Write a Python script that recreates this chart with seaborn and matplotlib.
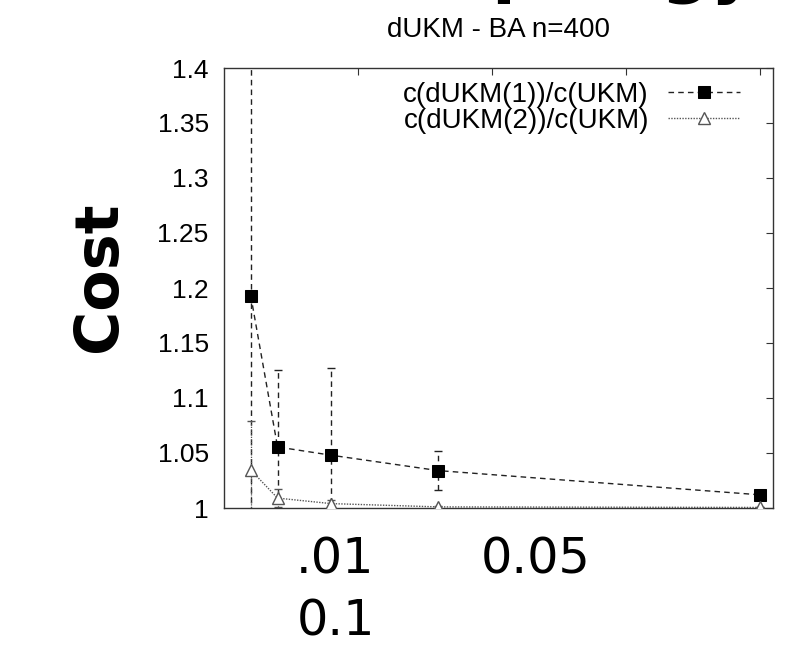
import numpy as np
import pandas as pd
import matplotlib
matplotlib.use("Agg")
import matplotlib.pyplot as plt
import seaborn as sns

# values
x_vals = [0.01, 0.02, 0.04, 0.08, 0.2]
ratio_1 = [1.193, 1.0555, 1.048, 1.034, 1.012]
err_1 = [0.25, 0.07, 0.079, 0.018, 0.002]
ratio_2 = [1.0345, 1.009, 1.004, 1.001, 1.0005]
err_2 = [0.045, 0.008, 0.003, 0.001, 0.0]
labels = ["c(dUKM(1))/c(UKM)", "c(dUKM(2))/c(UKM)"]
y_ticks = [1.0, 1.05, 1.1, 1.15, 1.2, 1.25, 1.3, 1.35, 1.4]
y_ticklabels = ["1", "1.05", "1.1", "1.15", "1.2", "1.25", "1.3", "1.35", "1.4"]
x_ticks = [0.05, 0.1, 0.15, 0.2]
overlay_labels = [".01", "0.05", "0.1"]

sns.set_style("white")
plt.rcParams['font.family'] = ['Liberation Sans', 'DejaVu Sans']
plt.rcParams['text.color'] = 'black'
plt.rcParams['ytick.labelcolor'] = 'black'

df = pd.DataFrame({"x": x_vals, "r1": ratio_1, "r2": ratio_2})

fig = plt.figure(figsize=(7.87, 6.53), dpi=100)
ax = fig.add_axes([224 / 787, 1 - 508 / 653, 549 / 787, 440 / 653])

# error bars first, lines on top
ax.errorbar(x_vals, ratio_1, yerr=err_1, fmt="none", ecolor="#222222",
            elinewidth=1, capsize=3, zorder=2)
ax.errorbar(x_vals, ratio_2, yerr=err_2, fmt="none", ecolor="#555555",
            elinewidth=0.9, capsize=3, zorder=2)
ax.collections[0].set_linestyle((0, (4, 3)))
ax.collections[1].set_linestyle((0, (1, 1)))

sns.lineplot(data=df, x="x", y="r1", ax=ax, color="#222222", linewidth=1,
             linestyle=(0, (4, 3)), marker="s", markersize=8,
             markerfacecolor="black", markeredgecolor="black",
             label=labels[0], zorder=3)
sns.lineplot(data=df, x="x", y="r2", ax=ax, color="#555555", linewidth=1,
             linestyle=(0, (1, 1)), marker="^", markersize=9,
             markerfacecolor="white", markeredgecolor="#555555",
             markeredgewidth=1, label=labels[1], zorder=3)

ax.set_xlim(0, 0.205)
ax.set_ylim(1.0, 1.4)
ax.set_xticks(x_ticks)
ax.set_xticklabels([])
ax.set_yticks(y_ticks)
ax.set_yticklabels(y_ticklabels, fontsize=19, color="black")
ax.tick_params(axis="both", direction="in", length=5, width=0.8,
               top=True, right=True, color="#333333", pad=11)
ax.set_xlabel("")
ax.set_ylabel("")
for sp in ax.spines.values():
    sp.set_color("#333333")
    sp.set_linewidth(1)

ax.set_title("dUKM - BA n=400", fontsize=20, pad=22, color="black")

ax.legend(loc="upper right", bbox_to_anchor=(0.94, 0.968), frameon=False,
          markerfirst=False, fontsize=20, handlelength=2.6,
          handletextpad=0.68, labelspacing=0.0, borderpad=0,
          borderaxespad=0, numpoints=1)

# slide overlay text
fig.text(99 / 787, 1 - 277 / 653, "Cost", rotation=90, fontsize=43.5,
         fontweight="bold", family="DejaVu Sans", ha="center", va="center",
         color="black")
fig.text(335 / 787, 1 - 559 / 653, overlay_labels[0], fontsize=35.5,
         family="DejaVu Sans", ha="center", va="center", color="black")
fig.text(536 / 787, 1 - 559 / 653, overlay_labels[1], fontsize=35.5,
         family="DejaVu Sans", ha="center", va="center", color="black")
fig.text(336 / 787, 1 - 622 / 653, overlay_labels[2], fontsize=35.5,
         family="DejaVu Sans", ha="center", va="center", color="black")
fig.text(757 / 787, 1 + 10 / 653, "Topology", fontsize=50, fontweight="bold",
         family="DejaVu Sans", ha="right", va="baseline", color="black")

fig.savefig("out.png", dpi=100)
